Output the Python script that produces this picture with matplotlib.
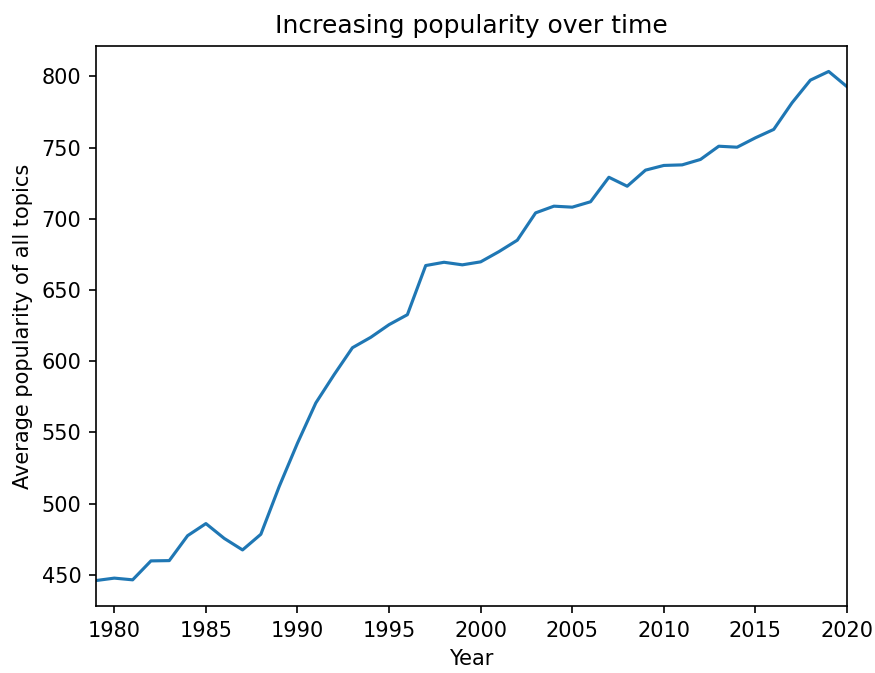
import numpy as np
import matplotlib
matplotlib.use("Agg")
import matplotlib.pyplot as plt

years = np.arange(1979, 2021)
popularity = [446, 447.7, 446.5, 459.8, 460, 477.5, 486, 475.6, 467.5, 478.5,
              512, 542.5, 570.7, 590.6, 609.5, 616.8, 625.7, 632.7, 667.2, 669.5,
              667.7, 669.8, 677, 685, 704.2, 708.9, 708.2, 712, 729.2, 722.9,
              734.2, 737.5, 737.9, 741.7, 751, 750.3, 756.9, 762.8, 781.5, 797.4,
              803.5, 792.8]

fig = plt.figure(figsize=(875 / 150, 673 / 150), dpi=150)
ax = fig.add_axes([96 / 875, 1 - 606 / 673, (847 - 96) / 875, (606 - 46) / 673])
ax.plot(years, popularity)
ax.set_xlim(1979, 2020)
ax.set_title("Increasing popularity over time")
ax.set_xlabel("Year")
ax.set_ylabel("Average popularity of all topics")
fig.savefig("out.png", dpi=150)
plt.close(fig)
